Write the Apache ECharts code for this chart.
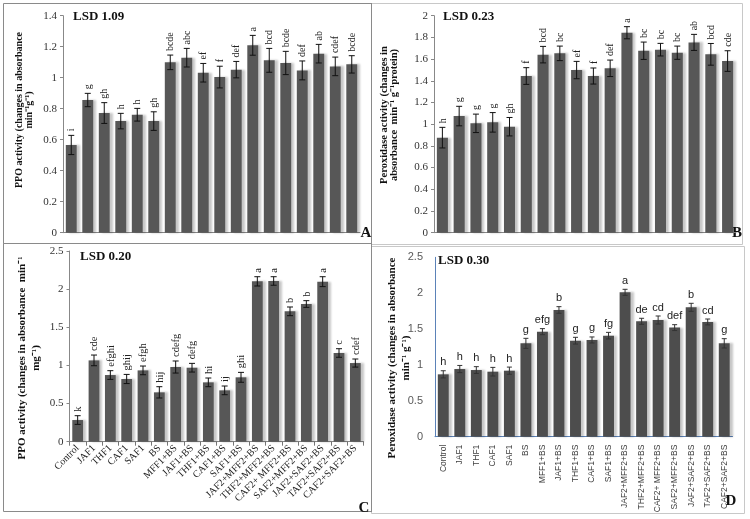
<!DOCTYPE html>
<html><head><meta charset="utf-8">
<script src="https://cdn.jsdelivr.net/npm/echarts@6/dist/echarts.min.js"></script>
<style>html,body{margin:0;padding:0;background:#fff}#c{width:750px;height:519px}</style>
</head><body><div id="c"></div>
<script>
const categories = ['Control','JAF1','THF1','CAF1','SAF1','BS','MFF1+BS','JAF1+BS','THF1+BS','CAF1+BS','SAF1+BS','JAF2+MFF2+BS','THF2+MFF2+BS','CAF2+ MFF2+BS','SAF2+MFF2+BS','JAF2+SAF2+BS','TAF2+SAF2+BS','CAF2+SAF2+BS'];

const valuesA = [0.566,0.856,0.772,0.72,0.761,0.72,1.099,1.129,1.032,1.004,1.052,1.209,1.112,1.095,1.047,1.155,1.073,1.086];
const errorsA = [0.062,0.043,0.067,0.05,0.041,0.06,0.047,0.06,0.06,0.07,0.053,0.064,0.077,0.075,0.061,0.06,0.06,0.056];
const lettersA = ['i','g','gh','h','h','gh','bcde','abc','ef','f','def','a','bcd','bcde','def','ab','cdef','bcde'];

const valuesB = [0.876,1.075,1.008,1.017,0.977,1.444,1.641,1.653,1.499,1.444,1.515,1.843,1.677,1.687,1.659,1.754,1.644,1.582];
const errorsB = [0.095,0.09,0.085,0.09,0.085,0.077,0.076,0.067,0.08,0.074,0.076,0.056,0.08,0.058,0.061,0.074,0.1,0.095];
const lettersB = ['h','g','g','g','gh','f','bcd','bc','ef','f','def','a','bc','bc','bc','ab','bcd','cde'];

const valuesC = [0.284,1.066,0.874,0.822,0.935,0.647,0.979,0.97,0.778,0.673,0.844,2.102,2.107,1.709,1.805,2.098,1.163,1.031];
const errorsC = [0.057,0.07,0.057,0.06,0.057,0.074,0.079,0.057,0.057,0.057,0.065,0.061,0.056,0.057,0.044,0.065,0.056,0.053];
const lettersC = ['k','cde','efghi','ghij','efgh','hij','cdefg','defg','hi','ij','ghi','a','a','b','b','a','c','cdef'];

const valuesD = [0.869,0.943,0.929,0.906,0.92,1.301,1.464,1.766,1.338,1.348,1.408,2.012,1.608,1.626,1.52,1.803,1.599,1.301];
const errorsD = [0.05,0.05,0.047,0.06,0.05,0.07,0.042,0.046,0.047,0.042,0.046,0.042,0.042,0.056,0.041,0.056,0.041,0.065];
const lettersD = ['h','h','h','h','h','g','efg','b','g','g','fg','a','de','cd','def','b','cd','g'];

const lsdLabels = ['LSD 1.09','LSD 0.23','LSD 0.20','LSD 0.30'];
const panelLetters = ['A','B','C','D'];

const SERIF = '"Liberation Serif", "Times New Roman", serif';
const SANS = '"Liberation Sans", Arial, sans-serif';

const chart = echarts.init(document.getElementById('c'), null, {renderer:'canvas'});

function errSeries(idx, values, errors, letters, opt) {
  return {
    type: 'custom', xAxisIndex: idx, yAxisIndex: idx, z: 5,
    data: values.map((v, i) => [i, v, errors[i]]),
    renderItem: function (params, api) {
      const i = api.value(0), v = api.value(1), e = api.value(2);
      const top = api.coord([i, v + e]);
      const bot = api.coord([i, v - e]);
      const cap = opt.cap;
      const st = {stroke: opt.color, lineWidth: 1};
      const children = [
        {type: 'line', shape: {x1: top[0], y1: top[1], x2: bot[0], y2: bot[1]}, style: st},
        {type: 'line', shape: {x1: top[0] - cap, y1: top[1], x2: top[0] + cap, y2: top[1]}, style: st},
        {type: 'line', shape: {x1: bot[0] - cap, y1: bot[1], x2: bot[0] + cap, y2: bot[1]}, style: st}
      ];
      const txt = letters[params.dataIndex];
      if (opt.rotate) {
        children.push({type: 'text', x: top[0] + 0.5, y: top[1] - 4, rotation: Math.PI / 2,
          style: {text: txt, fontFamily: SERIF, fontSize: opt.fontSize, fill: '#222', align: 'left', verticalAlign: 'middle'}});
      } else {
        children.push({type: 'text', x: top[0], y: top[1] - 3,
          style: {text: txt, fontFamily: SANS, fontSize: opt.fontSize, fill: '#222', align: 'center', verticalAlign: 'bottom'}});
      }
      return {type: 'group', children: children};
    }
  };
}

function barSeries(idx, values, color) {
  return {
    type: 'bar', xAxisIndex: idx, yAxisIndex: idx, barWidth: '66%',
    data: values,
    itemStyle: {color: color, shadowColor: 'rgba(0,0,0,0.22)', shadowOffsetX: 3, shadowOffsetY: 0, shadowBlur: 2},
    silent: true, animation: false
  };
}

const serifYAxis = (idx, max, interval) => ({
  gridIndex: idx, type: 'value', min: 0, max: max, interval: interval,
  axisLine: {show: true, lineStyle: {color: '#888', width: 1}},
  axisTick: {show: true, length: 3, lineStyle: {color: '#888'}},
  splitLine: {show: false},
  axisLabel: {fontFamily: SERIF, fontSize: 11, color: '#333', margin: 6}
});

const option = {
  animation: false,
  backgroundColor: '#fff',
  grid: [
    {left: 63, top: 15.7, width: 297, height: 217},
    {left: 434, top: 15.7, width: 302, height: 217},
    {left: 69.5, top: 251, width: 294, height: 190.7},
    {left: 435, top: 257.3, width: 297.5, height: 179.4}
  ],
  xAxis: [
    {gridIndex: 0, type: 'category', data: categories, axisLine: {lineStyle: {color: '#888'}}, axisTick: {show: false}, axisLabel: {show: false}},
    {gridIndex: 1, type: 'category', data: categories, axisLine: {lineStyle: {color: '#888'}}, axisTick: {show: false}, axisLabel: {show: false}},
    {gridIndex: 2, type: 'category', data: categories, axisLine: {lineStyle: {color: '#888'}},
      axisTick: {show: true, length: 4, lineStyle: {color: '#777'}},
      axisLabel: {interval: 0, rotate: 45, fontFamily: SERIF, fontSize: 10, color: '#222', margin: 5}},
    {gridIndex: 3, type: 'category', data: categories, axisLine: {lineStyle: {color: '#5b82b8'}}, axisTick: {show: false},
      axisLabel: {interval: 0, rotate: 90, fontFamily: SANS, fontSize: 8.5, color: '#404040', margin: 8}}
  ],
  yAxis: [
    serifYAxis(0, 1.4, 0.2),
    serifYAxis(1, 2, 0.2),
    serifYAxis(2, 2.5, 0.5),
    {gridIndex: 3, type: 'value', min: 0, max: 2.5, interval: 0.5,
      axisLine: {show: true, lineStyle: {color: '#5b82b8', width: 1}},
      axisTick: {show: false}, splitLine: {show: false},
      axisLabel: {fontFamily: SANS, fontSize: 11, color: '#595959', margin: 12}}
  ],
  series: [
    barSeries(0, valuesA, '#575757'),
    errSeries(0, valuesA, errorsA, lettersA, {cap: 3, color: '#111', rotate: true, fontSize: 10}),
    barSeries(1, valuesB, '#575757'),
    errSeries(1, valuesB, errorsB, lettersB, {cap: 3, color: '#111', rotate: true, fontSize: 10}),
    barSeries(2, valuesC, '#575757'),
    errSeries(2, valuesC, errorsC, lettersC, {cap: 3, color: '#111', rotate: true, fontSize: 10.5}),
    barSeries(3, valuesD, '#4d4d4d'),
    errSeries(3, valuesD, errorsD, lettersD, {cap: 2.5, color: '#333', rotate: false, fontSize: 11})
  ],
  graphic: [
    {type: 'rect', shape: {x: 3.5, y: 3.5, width: 368, height: 240}, style: {fill: 'none', stroke: '#8a8a8a', lineWidth: 1}, z: -1},
    {type: 'rect', shape: {x: 371.5, y: 3.5, width: 371, height: 241}, style: {fill: 'none', stroke: '#c8c8c8', lineWidth: 1}, z: -1},
    {type: 'rect', shape: {x: 3.5, y: 243.5, width: 368, height: 268}, style: {fill: 'none', stroke: '#8a8a8a', lineWidth: 1}, z: -1},
    {type: 'rect', shape: {x: 371.5, y: 246.5, width: 373, height: 267}, style: {fill: 'none', stroke: '#c8c8c8', lineWidth: 1}, z: -1},
    {type: 'line', shape: {x1: 371.5, y1: 3, x2: 371.5, y2: 512}, style: {stroke: '#8a8a8a', lineWidth: 1}},

    {type: 'text', x: 24.5, y: 110, rotation: Math.PI / 2,
      style: {text: 'PPO activity (changes in absorbance\nmin\u207B\u00B9g\u207B\u00B9)', fontFamily: SERIF, fontWeight: 'bold', fontSize: 10, lineHeight: 10, fill: '#111', align: 'center', verticalAlign: 'middle'}},
    {type: 'text', x: 389, y: 115, rotation: Math.PI / 2,
      style: {text: 'Peroxidase activity (changes in\nabsorbance  min\u207B\u00B9 g\u207B\u00B9protein)', fontFamily: SERIF, fontWeight: 'bold', fontSize: 10.5, lineHeight: 10, fill: '#111', align: 'center', verticalAlign: 'middle'}},
    {type: 'text', x: 29, y: 358, rotation: Math.PI / 2,
      style: {text: 'PPO activity (changes in absorbance  min\u207B\u00B9\nmg\u207B\u00B9)', fontFamily: SERIF, fontWeight: 'bold', fontSize: 11, lineHeight: 14, fill: '#111', align: 'center', verticalAlign: 'middle'}},
    {type: 'text', x: 399, y: 358, rotation: Math.PI / 2,
      style: {text: 'Peroxidase activity (changes in absorbance\nmin\u207B\u00B9 g\u207B\u00B9)', fontFamily: SERIF, fontWeight: 'bold', fontSize: 11, lineHeight: 14, fill: '#111', align: 'center', verticalAlign: 'middle'}},

    {type: 'text', x: 73, y: 17, style: {text: lsdLabels[0], fontFamily: SERIF, fontWeight: 'bold', fontSize: 13, fill: '#111', align: 'left', verticalAlign: 'middle'}},
    {type: 'text', x: 443, y: 17, style: {text: lsdLabels[1], fontFamily: SERIF, fontWeight: 'bold', fontSize: 13, fill: '#111', align: 'left', verticalAlign: 'middle'}},
    {type: 'text', x: 80, y: 257, style: {text: lsdLabels[2], fontFamily: SERIF, fontWeight: 'bold', fontSize: 13, fill: '#111', align: 'left', verticalAlign: 'middle'}},
    {type: 'text', x: 438, y: 261, style: {text: lsdLabels[3], fontFamily: SERIF, fontWeight: 'bold', fontSize: 13, fill: '#111', align: 'left', verticalAlign: 'middle'}},

    {type: 'text', x: 366, y: 233, style: {text: panelLetters[0], fontFamily: SERIF, fontWeight: 'bold', fontSize: 15, fill: '#111', align: 'center', verticalAlign: 'middle'}},
    {type: 'text', x: 737, y: 233, style: {text: panelLetters[1], fontFamily: SERIF, fontWeight: 'bold', fontSize: 15, fill: '#111', align: 'center', verticalAlign: 'middle'}},
    {type: 'text', x: 364, y: 508, style: {text: panelLetters[2], fontFamily: SERIF, fontWeight: 'bold', fontSize: 15, fill: '#111', align: 'center', verticalAlign: 'middle'}},
    {type: 'text', x: 731, y: 501, style: {text: panelLetters[3], fontFamily: SERIF, fontWeight: 'bold', fontSize: 15, fill: '#111', align: 'center', verticalAlign: 'middle'}}
  ]
};
chart.setOption(option);
</script>
</body></html>
